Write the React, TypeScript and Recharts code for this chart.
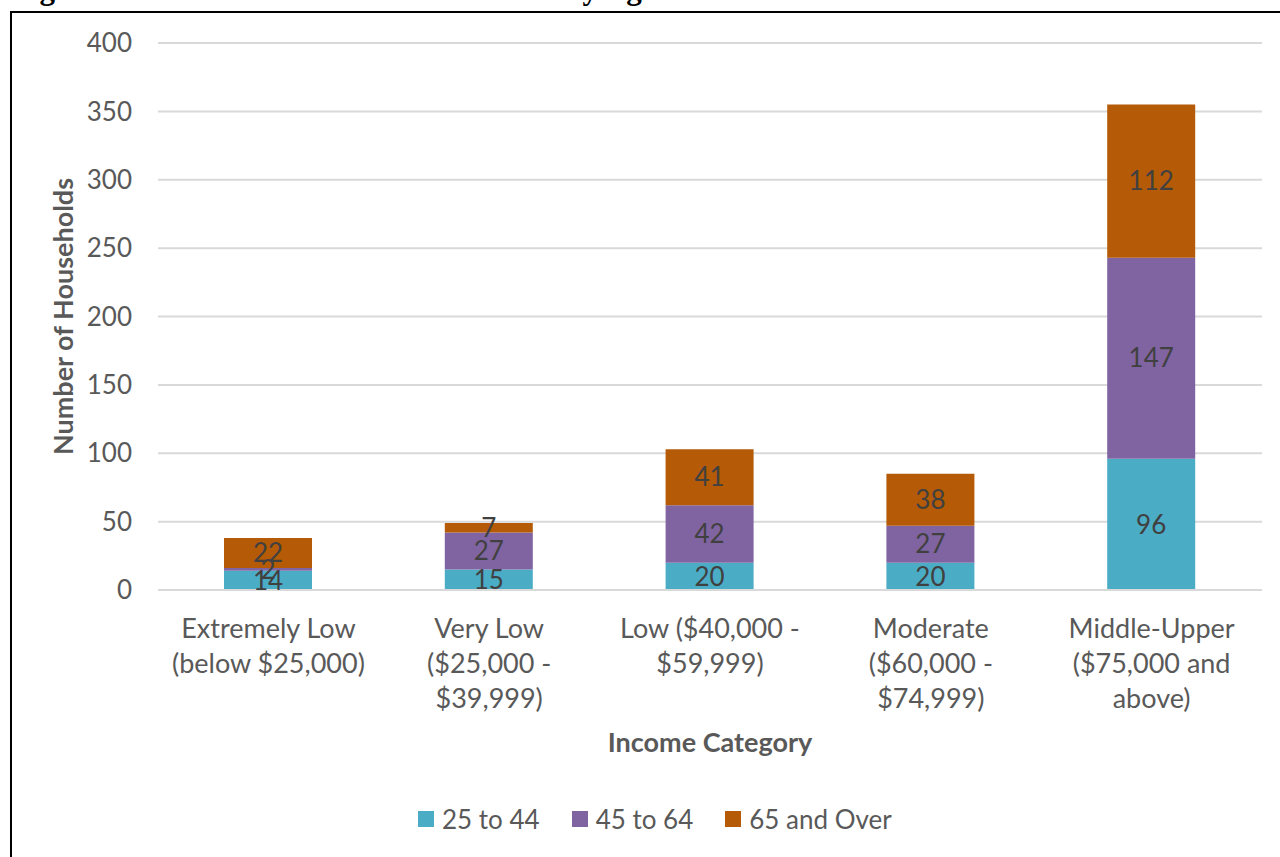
import React from 'react';
import { BarChart, Bar, XAxis, YAxis, CartesianGrid, Legend, LabelList, Label } from 'recharts';

// Households by income category, split by age of householder
const categories = ['Extremely Low', 'Very Low', 'Low', 'Moderate', 'Middle-Upper'];
const age25to44 = [14, 15, 20, 20, 96];
const age45to64 = [2, 27, 42, 27, 147];
const age65plus = [22, 7, 41, 38, 112];

const categoryTickLines: string[][] = [
  ['Extremely Low', '(below $25,000)'],
  ['Very Low', '($25,000 -', '$39,999)'],
  ['Low ($40,000 -', '$59,999)'],
  ['Moderate', '($60,000 -', '$74,999)'],
  ['Middle-Upper', '($75,000 and', 'above)'],
];

const yTicks = [0, 50, 100, 150, 200, 250, 300, 350, 400];

const seriesNames = ['25 to 44', '45 to 64', '65 and Over'];
const seriesColors = ['#4BACC6', '#8064A2', '#B55A06'];

const data = categories.map((c, i) => ({
  category: c,
  a: age25to44[i],
  b: age45to64[i],
  c: age65plus[i],
}));

const FONT = 'Lato, "Open Sans", sans-serif';

const CategoryTick = (props: any) => {
  const { x, y, payload } = props;
  const lines = categoryTickLines[payload.index] || [payload.value];
  return (
    <text x={x} y={y} textAnchor="middle" fill="#595959" fontSize={27} fontFamily={FONT}>
      {lines.map((l, i) => (
        <tspan key={i} x={x} dy={i === 0 ? 40 : 35}>
          {l}
        </tspan>
      ))}
    </text>
  );
};

const LegendContent = () => (
  <div style={{ display: 'flex', alignItems: 'center', fontFamily: FONT, fontSize: 26, color: '#595959', whiteSpace: 'nowrap' }}>
    {seriesNames.map((n, i) => (
      <div key={n} style={{ display: 'flex', alignItems: 'center', marginRight: i < 2 ? 32 : 0 }}>
        <span style={{ width: 16, height: 16, background: seriesColors[i], display: 'inline-block', marginRight: 8 }} />
        <span>{n}</span>
      </div>
    ))}
  </div>
);

export default function App() {
  return (
    <div style={{ position: 'absolute', left: 0, top: 0, width: 1280, height: 857, overflow: 'hidden', background: '#fff' }}>
      <div
        style={{
          position: 'absolute',
          left: 12,
          top: -27,
          fontFamily: '"Liberation Serif", serif',
          fontWeight: 'bold',
          fontSize: 31,
          lineHeight: '31px',
          whiteSpace: 'nowrap',
          color: '#000',
        }}
      >
        Figure 3: Household Income Distribution by Age
      </div>
      <div
        style={{
          position: 'absolute',
          left: 10,
          top: 11,
          width: 1400,
          height: 1000,
          border: '2px solid #000',
          boxSizing: 'border-box',
        }}
      />
      <div style={{ position: 'absolute', left: 0, top: 0 }}>
        <BarChart
          width={1280}
          height={857}
          data={data}
          margin={{ top: 43, right: 18, bottom: 0, left: 78 }}
          barCategoryGap="30%"
        >
          <CartesianGrid vertical={false} stroke="#D9D9D9" strokeWidth={2} />
          <XAxis
            dataKey="category"
            tick={<CategoryTick />}
            tickLine={false}
            axisLine={{ stroke: '#D9D9D9', strokeWidth: 2 }}
            interval={0}
            height={267}
          >
            <Label
              value="Income Category"
              position="insideTop"
              offset={143}
              fill="#595959"
              fontSize={27}
              fontWeight="bold"
              fontFamily={FONT}
            />
          </XAxis>
          <YAxis
            domain={[0, 400]}
            ticks={yTicks}
            width={80}
            tickLine={false}
            axisLine={false}
            tickMargin={20}
            tick={{ fill: '#595959', fontSize: 26, fontFamily: FONT }}
            interval={0}
          >
            <Label
              value="Number of Households"
              angle={-90}
              position="insideLeft"
              offset={-15}
              fill="#595959"
              fontSize={27}
              fontWeight="bold"
              fontFamily={FONT}
              style={{ textAnchor: 'middle' }}
            />
          </YAxis>
          <Legend
            verticalAlign="middle"
            align="center"
            content={<LegendContent />}
            wrapperStyle={{ left: 418, top: 803, width: 'auto', bottom: 'auto' }}
          />
          <Bar dataKey="a" name={seriesNames[0]} stackId="s" fill={seriesColors[0]} isAnimationActive={false} barSize={88}>
            <LabelList dataKey="a" position="center" fill="#404040" fontSize={26} fontFamily={FONT} />
          </Bar>
          <Bar dataKey="b" name={seriesNames[1]} stackId="s" fill={seriesColors[1]} isAnimationActive={false} barSize={88}>
            <LabelList dataKey="b" position="center" fill="#404040" fontSize={26} fontFamily={FONT} />
          </Bar>
          <Bar dataKey="c" name={seriesNames[2]} stackId="s" fill={seriesColors[2]} isAnimationActive={false} barSize={88}>
            <LabelList dataKey="c" position="center" fill="#404040" fontSize={26} fontFamily={FONT} />
          </Bar>
        </BarChart>
      </div>
    </div>
  );
}
